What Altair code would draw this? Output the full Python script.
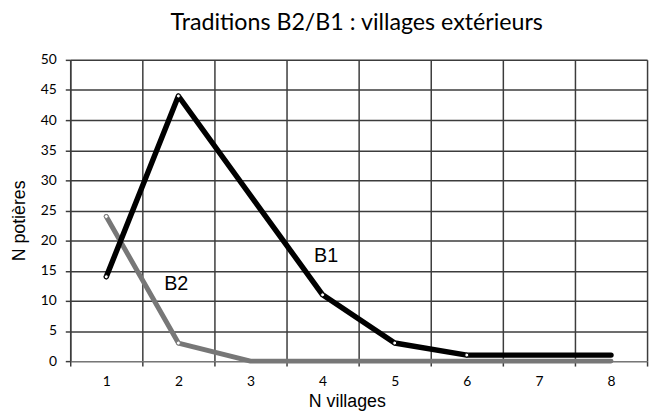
import altair as alt
import pandas as pd

# ---- data ----
villages = [1, 2, 3, 4, 5, 6, 7, 8]
b1_values = [14, 44, None, 11, 3, 1, 1, 1]
b2_values = [24, 3, 0, 0, 0, 0, 0, 0]
b1_markers = [True, True, False, True, True, True, False, False]
b2_markers = [True, True, False, False, False, False, False, False]
series_names = ["B2", "B1"]
series_colors = ["#777777", "#000000"]
label_text = ["B2", "B1"]
label_x = [1.97, 4.05]
label_y = [12.8, 17.5]
y_ticks = list(range(0, 51, 5))
x_bounds = [v - 0.5 for v in villages] + [villages[-1] + 0.5]

rows = []
for name, vals, marks in [("B2", b2_values, b2_markers), ("B1", b1_values, b1_markers)]:
    for x, v, m in zip(villages, vals, marks):
        if v is not None:
            rows.append({"serie": name, "x": x, "y": v, "marker": m})
df = pd.DataFrame(rows)
labels_df = pd.DataFrame({"text": label_text, "x": label_x, "y": label_y})

W, H = 584, 305
GRID = "#3c3c3c"

xscale = alt.Scale(domain=[0.5, 8.5], nice=False, zero=False)
yscale = alt.Scale(domain=[0, 50], nice=False, zero=True)
cscale = alt.Scale(domain=series_names, range=series_colors)

x_axis = alt.Axis(
    values=x_bounds, grid=True, gridColor=GRID, gridWidth=1.5,
    ticks=True, tickSize=5, tickColor=GRID, tickWidth=1.5,
    domainColor="#777777", domainWidth=1.5,
    labelExpr="datum.value < 8 ? format(datum.value + 0.5, 'd') : ''",
    labelOffset=W / 16, labelFlush=False, labelOverlap=False, labelBound=False,
    labelFont="Lato", labelFontSize=14, labelColor="#000000", labelPadding=9,
    title="N villages", titleFont="Liberation Sans", titleFontSize=18,
    titleFontWeight="normal", titleColor="#000000", titlePadding=4,
    titleX=W / 2 - 12,
)
y_axis = alt.Axis(
    values=y_ticks, grid=True, gridColor=GRID, gridWidth=1.5,
    ticks=True, tickSize=5, tickColor=GRID, tickWidth=1.5,
    domainColor=GRID, domainWidth=1.5,
    labelFont="Lato", labelFontSize=14, labelColor="#000000", labelPadding=9,
    labelOverlap=False, labelFlush=False,
    title="N potières", titleFont="Liberation Sans", titleFontSize=18,
    titleFontWeight="normal", titleColor="#000000", titlePadding=12,
    titleY=H / 2 + 10,
)

X = alt.X("x:Q", scale=xscale, axis=x_axis)
Y = alt.Y("y:Q", scale=yscale, axis=y_axis)

base = alt.Chart(df).encode(
    x=X, y=Y,
    color=alt.Color("serie:N", scale=cscale, legend=None),
)

line_b2 = base.transform_filter(alt.datum.serie == "B2").mark_line(strokeWidth=5, strokeCap="round", strokeJoin="round")
line_b1 = base.transform_filter(alt.datum.serie == "B1").mark_line(strokeWidth=5.5, strokeCap="round", strokeJoin="round")

points = alt.Chart(df).transform_filter(alt.datum.marker).mark_point(
    filled=False, fill="white", fillOpacity=1, size=16, strokeWidth=1, opacity=1
).encode(
    x=X, y=Y,
    stroke=alt.Color("serie:N", scale=cscale, legend=None),
)

texts = alt.Chart(labels_df).mark_text(
    font="Liberation Sans", fontSize=20, color="#000000"
).encode(
    x=X, y=Y,
    text="text:N",
)

chart = alt.layer(line_b2, line_b1, points, texts).properties(
    width=W, height=H,
    autosize=alt.AutoSizeParams(type="none"),
    padding={"left": 63, "top": 50, "right": 5, "bottom": 49},
    title=alt.TitleParams(
        "Traditions B2/B1 : villages extérieurs", font="Lato", fontSize=23.5,
        fontWeight="normal", color="#000000", anchor="middle", offset=0,
        baseline="alphabetic", dx=-2,
    ),
).configure_view(stroke=None).configure(background="white")

chart.save("out.html", embed_options={"renderer": "svg", "actions": False})
